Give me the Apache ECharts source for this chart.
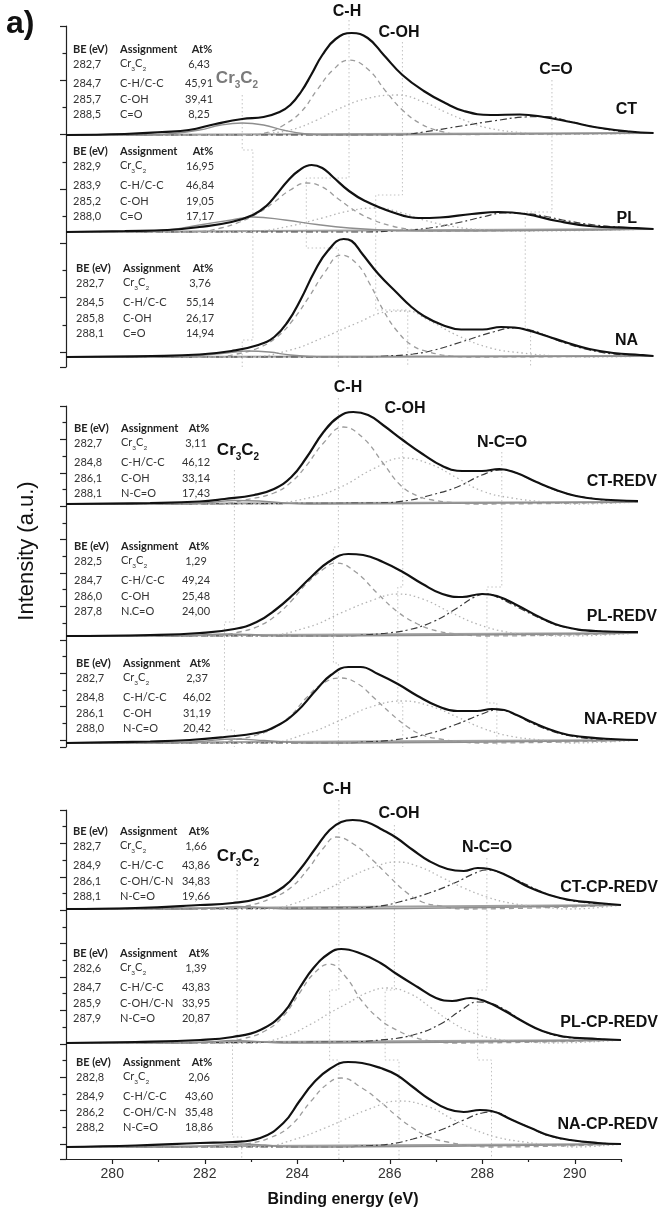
<!DOCTYPE html>
<html>
<head>
<meta charset="utf-8">
<script src="https://cdn.jsdelivr.net/npm/echarts@6/dist/echarts.min.js"></script>
<style>
  html, body { margin: 0; padding: 0; background: #fff; }
  #chart { width: 659px; height: 1211px; }
</style>
</head>
<body>
<div id="chart"></div>
<script>
// tick labels of the bottom axis
var xMajor = [280, 282, 284, 286, 288, 290];
var xMinor = [281, 283, 285, 287, 289, 291];

// ---- CT ----
var ct_be = [282.7, 284.7, 285.7, 288.5];
var ct_at = [6.43, 45.91, 39.41, 8.25];
var ct_env = [[279.4,0],[280.5,1],[281.2,3],[281.7,5],[282.2,11],[282.7,16],[283.1,18],[283.4,23],[283.6,30],[283.8,43],[284.0,61],[284.2,80],[284.45,96],[284.75,102],[285.05,97],[285.35,80],[285.7,60],[286.1,44],[286.5,32],[286.85,24],[287.35,20],[287.9,20.5],[288.35,18],[288.85,13],[289.35,7.5],[289.95,3.5],[290.4,2]];
var ct_cr = [[280.8,0],[281.4,1.5],[281.9,5],[282.3,10],[282.7,12],[283.1,10],[283.5,4.5],[283.9,1],[284.3,0]];
var ct_ch = [[282.9,0],[283.2,3],[283.45,9],[283.8,23],[284.1,45],[284.4,65],[284.7,75],[285.05,66],[285.4,43],[285.7,25],[286.05,11],[286.4,4],[286.8,0.5]];
var ct_coh = [[282.6,0],[283.0,1],[283.6,5],[284.1,15],[284.5,26],[285.0,36],[285.6,40],[286.1,33],[286.5,23],[286.9,14],[287.3,7],[288.0,2],[288.5,0.5]];
var ct_co = [[285.6,0],[286.1,3],[286.8,9],[287.4,14],[288.0,18],[288.4,18.5],[288.8,14],[289.3,8],[289.9,3],[290.4,2]];
var ct_bg = [[279.4,0],[290.4,2]];

// ---- PL ----
var pl_be = [282.9, 283.9, 285.2, 288.0];
var pl_at = [16.95, 46.84, 19.05, 17.17];
var pl_env = [[279.4,0],[280.5,1],[281.3,2],[281.9,5],[282.5,10],[282.9,17],[283.15,26],[283.35,38],[283.55,51],[283.75,61],[284.0,67],[284.2,64],[284.4,55],[284.7,41],[285.0,31],[285.5,20],[286.0,14],[286.4,14.5],[287.0,18],[287.5,20],[288.0,18],[288.6,11],[289.2,6],[290.0,4],[290.4,3]];
var pl_cr = [[280.5,0],[281.3,2],[281.9,7],[282.5,12],[282.9,15],[283.5,12],[284.1,7.5],[284.7,4],[285.3,2],[286.0,1]];
var pl_ch = [[281.8,0],[282.3,4],[282.65,10],[283.0,19],[283.3,30],[283.6,42],[283.9,49],[284.2,45],[284.5,33],[284.85,20],[285.15,12],[285.5,6],[285.8,3],[286.3,1]];
var pl_coh = [[282.4,0],[283.0,1],[283.6,6],[284.2,14],[284.7,21],[285.2,24],[285.7,19],[286.1,12],[286.7,5],[287.3,2],[288.0,1]];
var pl_co = [[285.0,0],[285.5,1],[286.2,4],[286.8,10],[287.2,15],[287.6,19],[288.0,18.5],[288.4,15.5],[288.7,12],[289.3,7],[290.0,4],[290.4,3]];
var pl_bg = [[279.4,0],[290.4,3]];

// ---- NA ----
var na_be = [282.7, 284.5, 285.8, 288.1];
var na_at = [3.76, 55.14, 26.17, 14.94];
var na_env = [[279.4,0],[281.0,1],[281.9,2.5],[282.5,6],[283.0,12],[283.3,20],[283.55,35],[283.8,58],[284.05,85],[284.3,106],[284.6,118],[284.75,116],[284.95,103],[285.25,83],[285.6,64],[285.85,51],[286.1,41],[286.45,32],[286.8,27.5],[287.2,27.5],[287.55,30],[287.8,29.5],[288.1,26],[288.4,21],[288.8,14],[289.2,8],[289.65,4],[290.15,2],[290.4,1]];
var na_cr = [[281.3,0],[281.9,1.5],[282.4,4],[282.8,6],[283.2,5],[283.6,2],[284.0,0.5],[284.4,0]];
var na_ch = [[282.2,0],[282.6,3],[283.0,9],[283.35,20],[283.65,37],[283.95,60],[284.25,85],[284.55,102],[284.85,93],[285.1,72],[285.35,46],[285.6,26],[285.9,11],[286.2,5],[286.6,1],[287.0,0]];
var na_coh = [[282.8,0],[283.6,7],[284.2,19],[284.85,34],[285.4,45],[285.8,46],[286.15,38],[286.75,21],[287.35,9],[287.95,4],[288.6,1],[289.2,0]];
var na_co = [[285.0,0],[285.4,1],[285.9,3],[286.3,7],[286.8,15],[287.4,25],[287.8,29],[288.1,27],[288.45,20],[288.8,13],[289.2,7],[289.65,3],[290.15,1.5],[290.4,1]];
var na_bg = [[279.4,0],[290.4,1]];

// ---- CT-REDV ----
var ctr_be = [282.7, 284.8, 286.1, 288.1];
var ctr_at = [3.11, 46.12, 33.14, 17.43];
var ctr_env = [[279.3,0],[281.0,1],[282.0,2.5],[282.5,5],[283.1,9],[283.5,15],[283.85,27],[284.15,46],[284.5,72],[284.8,87],[285.1,92],[285.4,89],[285.7,79],[286.1,64],[286.5,50],[286.9,38],[287.3,33],[287.7,33],[288.05,35],[288.4,31],[288.8,22],[289.2,14],[289.6,8],[290.0,5],[290.85,3]];
var ctr_cr = [[281.5,0],[282.2,1.5],[282.7,3.5],[283.2,3],[283.7,1],[284.2,0]];
var ctr_ch = [[282.4,0],[282.9,4],[283.5,11],[283.85,22],[284.15,38],[284.5,61],[284.9,77],[285.3,66],[285.7,41],[286.05,19],[286.4,8],[286.7,4],[287.2,1],[287.6,0]];
var ctr_coh = [[283.2,0],[284.2,6],[284.85,17],[285.5,35],[286.1,46],[286.65,40],[287.2,26],[287.7,13],[288.3,6],[289.0,2],[289.6,0]];
var ctr_co = [[285.6,1],[286.2,3.5],[286.6,8],[287.2,17],[287.7,29],[288.1,34],[288.4,31],[288.75,23],[289.3,12],[290.0,5],[290.5,3],[290.85,2]];
var ctr_bg = [[279.3,0],[290.85,2]];

// ---- PL-REDV ----
var plr_be = [282.5, 284.7, 286.0, 287.8];
var plr_at = [1.29, 49.24, 25.48, 24.00];
var plr_env = [[279.3,0],[281.0,1],[282.0,3],[282.7,7],[283.15,14],[283.55,27],[283.9,42],[284.25,59],[284.6,74],[285.0,82],[285.3,81],[285.7,74],[286.1,64],[286.5,52],[286.9,42],[287.3,39],[287.7,42],[288.0,40],[288.4,31],[288.9,18],[289.3,10],[290.0,5],[290.85,4]];
var plr_cr = [[281.3,0],[282.0,1],[282.5,2],[283.0,1.5],[283.6,0]];
var plr_ch = [[282.3,0],[282.8,4],[283.15,9],[283.5,19],[283.85,35],[284.15,52],[284.5,67],[284.75,73],[285.15,64],[285.6,42],[286.0,24],[286.4,12],[286.8,5],[287.2,2],[287.7,0]];
var plr_coh = [[283.2,0],[284.2,9],[284.85,23],[285.5,36],[286.0,42],[286.5,37],[287.05,24],[287.6,12],[288.2,4],[288.8,1],[289.4,0]];
var plr_co = [[285.0,0],[285.3,1],[285.8,3],[286.2,6],[286.7,14],[287.2,28],[287.55,39],[287.8,42],[288.05,38],[288.45,28],[288.95,16],[289.35,9],[290.0,5],[290.85,4]];
var plr_bg = [[279.3,0],[290.85,3]];

// ---- NA-REDV ----
var nar_be = [282.7, 284.8, 286.1, 288.0];
var nar_at = [2.37, 46.02, 31.19, 20.42];
var nar_env = [[279.3,0],[281.0,1.5],[281.8,3],[282.5,6],[283.15,10],[283.55,17],[283.95,31],[284.35,53],[284.65,68],[285.0,76],[285.25,76],[285.6,69],[286.0,59],[286.4,47],[286.8,37],[287.2,32],[287.6,32],[287.9,34],[288.15,33],[288.4,28],[288.75,20],[289.1,13],[289.45,8],[290.0,5],[290.85,3]];
var nar_cr = [[281.2,0],[282.0,1.5],[282.7,4],[283.3,2.5],[283.9,0.5],[284.3,0]];
var nar_ch = [[282.3,0],[282.8,4],[283.15,8],[283.5,15],[283.85,28],[284.15,45],[284.5,60],[284.85,65],[285.2,59],[285.5,46],[285.85,30],[286.2,16],[286.5,8],[286.85,4],[287.3,1],[287.7,0]];
var nar_coh = [[283.3,0],[284.2,10],[284.85,23],[285.45,36],[286.1,42],[286.65,37],[287.2,26],[287.7,15],[288.25,7],[288.9,3],[289.5,0]];
var nar_co = [[285.0,0],[285.3,1],[285.9,3],[286.6,9],[287.2,19],[287.7,29],[288.0,33],[288.3,30],[288.7,20],[289.1,12],[289.5,7],[290.0,4],[290.85,3]];
var nar_bg = [[279.3,0],[290.85,3]];

// ---- CT-CP-REDV ----
var ctc_be = [282.7, 284.9, 286.1, 288.1];
var ctc_at = [1.66, 43.86, 34.83, 19.66];
var ctc_env = [[279,0],[280.5,1],[281.9,4],[282.6,6],[283.2,11],[283.7,22],[284.05,39],[284.4,61],[284.7,79],[284.95,87],[285.2,89],[285.5,87],[285.85,79],[286.15,71],[286.5,59],[286.85,48],[287.25,40],[287.6,38],[287.9,41],[288.15,40],[288.55,33],[289.0,22],[289.45,14],[289.9,9],[290.5,6],[291,4]];
var ctc_cr = [[281.5,0],[282.2,1],[282.7,2.5],[283.2,1.5],[283.8,0]];
var ctc_ch = [[282.4,0],[282.9,3],[283.4,10],[283.85,21],[284.25,41],[284.55,60],[284.85,72],[285.25,64],[285.65,48],[286.0,32],[286.35,17],[286.7,7],[287.1,3],[287.6,0]];
var ctc_coh = [[283.3,0],[283.9,5],[284.7,21],[285.15,32],[285.6,41],[286.15,47],[286.65,42],[287.15,31],[287.6,21],[288.1,12],[288.6,6],[289.3,2],[289.9,0]];
var ctc_co = [[285.2,1],[285.8,3],[286.2,7],[286.85,16],[287.45,27],[287.8,35],[288.1,39],[288.35,37],[288.75,29],[289.2,19],[289.6,12],[290.1,7],[291,4]];
var ctc_bg = [[279,0],[291,4]];

// ---- PL-CP-REDV ----
var plc_be = [282.6, 284.7, 285.9, 287.9];
var plc_at = [1.39, 43.83, 33.95, 20.87];
var plc_env = [[279,0],[280.5,1],[281.9,3],[282.6,6],[283.2,13],[283.7,30],[284.05,55],[284.35,75],[284.7,90],[284.95,94],[285.4,89],[285.8,80],[286.15,69],[286.6,56],[287.0,45],[287.35,42],[287.75,45],[288.05,42],[288.45,33],[288.9,21],[289.3,12],[289.75,6.5],[290.5,4],[291,3]];
var plc_cr = [[281.4,0],[282.1,1],[282.6,2.5],[283.1,1.5],[283.7,0]];
var plc_ch = [[282.3,0],[282.8,4],[283.3,12],[283.7,27],[284.05,50],[284.35,69],[284.7,79],[285.05,66],[285.4,42],[285.8,23],[286.15,13],[286.5,6],[286.9,2],[287.4,0]];
var plc_coh = [[283.0,0],[283.7,6],[284.3,19],[284.7,30],[285.1,40],[285.5,50],[285.95,55],[286.45,49],[286.9,35],[287.3,22],[287.75,11],[288.3,4],[289.0,1],[289.5,0]];
var plc_co = [[285.0,1],[285.8,3],[286.5,8],[287.1,19],[287.55,33],[287.9,41],[288.15,40],[288.5,33],[288.9,21],[289.3,12],[289.75,6],[290.5,4],[291,3]];
var plc_bg = [[279,0],[291,3]];

// ---- NA-CP-REDV ----
var nac_be = [282.8, 284.9, 286.2, 288.2];
var nac_at = [2.06, 43.60, 35.48, 18.86];
var nac_env = [[279,0],[280.5,1.5],[281.9,4],[282.6,5],[283.2,9],[283.7,24],[284.05,46],[284.35,64],[284.7,78],[285.1,85],[285.4,84],[285.8,79],[286.15,72],[286.5,60],[286.85,48],[287.25,38],[287.6,35],[287.95,37],[288.2,36],[288.65,27],[289.05,19],[289.45,11.5],[289.9,7],[290.5,4],[291,3]];
var nac_cr = [[281.4,0],[282.2,1.5],[282.8,3],[283.3,2],[283.9,0]];
var nac_ch = [[282.4,0],[282.9,3],[283.4,9],[283.85,21],[284.3,46],[284.65,63],[284.95,69],[285.4,59],[285.8,45],[286.15,31],[286.5,19],[286.85,10],[287.25,5],[287.8,1],[288.2,0]];
var nac_coh = [[283.2,0],[283.9,7],[284.6,19],[285.0,27],[285.5,37],[286.2,46],[286.85,40],[287.35,28],[287.8,18],[288.3,10],[288.9,5],[289.5,2],[290.0,0]];
var nac_co = [[285.0,0],[285.4,1],[286.0,3],[286.5,8],[287.1,17],[287.6,27],[288.0,34],[288.25,35],[288.65,27],[289.05,19],[289.45,11],[289.9,7],[290.5,4],[291,3]];
var nac_bg = [[279,0],[291,3]];

// assignments
var assignOx = ['Cr3C2', 'C-H/C-C', 'C-OH', 'C=O'];
var assignRedv = ['Cr3C2', 'C-H/C-C', 'C-OH', 'N-C=O'];
var assignRedvPl = ['Cr3C2', 'C-H/C-C', 'C-OH', 'N.C=O'];
var assignCp = ['Cr3C2', 'C-H/C-C', 'C-OH/C-N', 'N-C=O'];
var peakNamesOx = ['C-H', 'C-OH', 'C=O'];
var peakNamesN = ['C-H', 'C-OH', 'N-C=O'];

// ------------------------------------------------------------------
// layout
var LEFT = 66;
// the three blocks of the original figure do not share exactly the same x scale
var blocks = [
  {top: 26, height: 341, width: 587.4, min: 279.4, max: 290.4, tick: 54.33},
  {top: 406, height: 341, width: 572, min: 279.3, max: 290.85, tick: 33.4},
  {top: 810, height: 349, width: 555, min: 279, max: 291, tick: 33.4}
];
// dotted guide lines: y levels (px from block top) where they step to the next spectrum
var guideLevels = [
  [[69, 124, 314, 341], [-6, 152, 222, 341], [16, 169, 284, 341], [54, 186, 304, 341]],
  [[64, 216, 324, 341], [-8, 141, 257, 341], [14, 181, 297, 341], [46, 181, 297, 341]],
  [[60, 233, 327, 349], [-10, 180, 250, 349], [15, 180, 250, 349], [48, 180, 250, 349]]
];
var panels = [
  {name: 'CT', block: 0, base: 135, lx: 637, ly: 110, tx: 73, tc: 199, ty: 49, be: ct_be, at: ct_at, asg: assignOx, env: ct_env, cr: ct_cr, ch: ct_ch, coh: ct_coh, co: ct_co, bg: ct_bg},
  {name: 'PL', block: 0, base: 232, lx: 637, ly: 219, tx: 73, tc: 200, ty: 151, be: pl_be, at: pl_at, asg: assignOx, env: pl_env, cr: pl_cr, ch: pl_ch, coh: pl_coh, co: pl_co, bg: pl_bg},
  {name: 'NA', block: 0, base: 357, lx: 638, ly: 341, tx: 76, tc: 200, ty: 268, be: na_be, at: na_at, asg: assignOx, env: na_env, cr: na_cr, ch: na_ch, coh: na_coh, co: na_co, bg: na_bg},
  {name: 'CT-REDV', block: 1, base: 504, lx: 657, ly: 482, tx: 74, tc: 196, ty: 428, be: ctr_be, at: ctr_at, asg: assignRedv, env: ctr_env, cr: ctr_cr, ch: ctr_ch, coh: ctr_coh, co: ctr_co, bg: ctr_bg},
  {name: 'PL-REDV', block: 1, base: 636, lx: 657, ly: 617, tx: 74, tc: 196, ty: 546, be: plr_be, at: plr_at, asg: assignRedvPl, env: plr_env, cr: plr_cr, ch: plr_ch, coh: plr_coh, co: plr_co, bg: plr_bg},
  {name: 'NA-REDV', block: 1, base: 743, lx: 657, ly: 720, tx: 76, tc: 197, ty: 663, be: nar_be, at: nar_at, asg: assignRedv, env: nar_env, cr: nar_cr, ch: nar_ch, coh: nar_coh, co: nar_co, bg: nar_bg},
  {name: 'CT-CP-REDV', block: 2, base: 909, lx: 658, ly: 888, tx: 73, tc: 196, ty: 831, be: ctc_be, at: ctc_at, asg: assignCp, env: ctc_env, cr: ctc_cr, ch: ctc_ch, coh: ctc_coh, co: ctc_co, bg: ctc_bg},
  {name: 'PL-CP-REDV', block: 2, base: 1043, lx: 658, ly: 1023, tx: 73, tc: 196, ty: 953, be: plc_be, at: plc_at, asg: assignCp, env: plc_env, cr: plc_cr, ch: plc_ch, coh: plc_coh, co: plc_co, bg: plc_bg},
  {name: 'NA-CP-REDV', block: 2, base: 1147, lx: 658, ly: 1125, tx: 76, tc: 199, ty: 1062, be: nac_be, at: nac_at, asg: assignCp, env: nac_env, cr: nac_cr, ch: nac_ch, coh: nac_coh, co: nac_co, bg: nac_bg}
];
// peak labels above each block: C-H, C-OH, C=O / N-C=O, then Cr3C2
var peakLabelPos = [
  {names: peakNamesOx, pos: [[347, 12], [399, 33], [556, 70]], cr: [237, 80], crColor: '#7a7a7a'},
  {names: peakNamesN, pos: [[348, 388], [405, 409], [502, 443]], cr: [238, 452], crColor: '#111'},
  {names: peakNamesN, pos: [[337, 790], [399, 814], [487, 848]], cr: [238, 858], crColor: '#111'}
];
var rowOffsets = [15, 34, 50, 65];

var styles = {
  bg: {color: '#a0a0a0', width: 2, type: 'solid'},
  co: {color: '#3a3a3a', width: 1.2, type: [7, 3, 2, 3]},
  coh: {color: '#b4b4b4', width: 1.3, type: [1.5, 3]},
  ch: {color: '#9c9c9c', width: 1.3, type: [5, 4]},
  cr: {color: '#8e8e8e', width: 1.3, type: 'solid'},
  env: {color: '#111', width: 2.2, type: 'solid'}
};
var FONT = '"Liberation Sans", Arial, sans-serif';
var TFONT = 'Lato, "Open Sans", sans-serif';
var AXIS_COLOR = '#222';

function fmt(v, d) { return v.toFixed(d).replace('.', ','); }

// component curves run across the whole panel on top of the background
function withEnds(arr, bg) {
  var out = arr.slice();
  if (out[0][0] > bg[0][0]) out.unshift(bg[0]);
  if (out[out.length - 1][0] < bg[1][0]) out.push(bg[1]);
  return out;
}

var grids = [], xAxes = [], yAxes = [], series = [], graphics = [];

blocks.forEach(function (b, i) {
  grids.push({left: LEFT, top: b.top, width: b.width, height: b.height});
  if (i < 2) {
    xAxes.push({type: 'value', gridIndex: i, min: b.min, max: b.max, show: false});
  } else {
    xAxes.push({
      type: 'value', gridIndex: i, min: b.min, max: b.max, position: 'bottom',
      axisLine: {show: true, onZero: false, lineStyle: {color: AXIS_COLOR, width: 1.2}},
      axisTick: {show: true, length: 5, customValues: xMajor, lineStyle: {color: AXIS_COLOR, width: 1.2}},
      axisLabel: {show: true, customValues: xMajor, margin: 8, fontSize: 14, color: '#333', fontFamily: FONT},
      splitLine: {show: false}
    });
  }
  yAxes.push({
    type: 'value', gridIndex: i, min: 0, max: b.height, inverse: true, interval: b.tick,
    axisLine: {show: true, lineStyle: {color: AXIS_COLOR, width: 1.2}},
    axisTick: {show: true, length: 6, lineStyle: {color: AXIS_COLOR, width: 1.2}},
    minorTick: {show: true, splitNumber: 2, length: 3.5, lineStyle: {color: AXIS_COLOR, width: 1.2}},
    axisLabel: {show: false}, splitLine: {show: false}, minorSplitLine: {show: false}
  });
});

panels.forEach(function (p, k) {
  var b = blocks[p.block];
  var gi = 3 + k;
  grids.push({left: LEFT, width: b.width, top: p.base - 130, height: 135});
  xAxes.push({type: 'value', gridIndex: gi, min: b.min, max: b.max, show: false});
  yAxes.push({type: 'value', gridIndex: gi, min: -5, max: 130, show: false});
  ['bg', 'co', 'coh', 'ch', 'cr', 'env'].forEach(function (key, z) {
    var data = (key === 'bg' || key === 'env') ? p[key] : withEnds(p[key], p.bg);
    series.push({
      type: 'line', name: p.name + ' ' + key, xAxisIndex: gi, yAxisIndex: gi,
      data: data, smooth: key === 'bg' ? false : 0.45,
      symbol: 'none', clip: false, silent: true, z: 3 + z,
      lineStyle: styles[key]
    });
  });

  // panel name
  graphics.push({type: 'text', x: p.lx, y: p.ly, silent: true, style: {
    text: p.name, fontFamily: FONT, fontWeight: 'bold', fontSize: 16, fill: '#111',
    textAlign: 'right', verticalAlign: 'middle'}});

  // table of fitted components
  var hdr = {fontFamily: TFONT, fontWeight: 'bold', fontSize: 11, fill: '#222', verticalAlign: 'middle'};
  graphics.push({type: 'text', x: p.tx, y: p.ty, silent: true, style: Object.assign({text: 'BE (eV)', textAlign: 'left'}, hdr)});
  graphics.push({type: 'text', x: p.tx + 47, y: p.ty, silent: true, style: Object.assign({text: 'Assignment', textAlign: 'left'}, hdr)});
  graphics.push({type: 'text', x: p.tc + 3, y: p.ty, silent: true, style: Object.assign({text: 'At%', textAlign: 'center'}, hdr)});
  var cell = {fontFamily: TFONT, fontSize: 11, fill: '#333', verticalAlign: 'middle'};
  p.be.forEach(function (be, r) {
    var y = p.ty + rowOffsets[r];
    graphics.push({type: 'text', x: p.tx, y: y, silent: true, style: Object.assign({text: fmt(be, 1), textAlign: 'left'}, cell)});
    var a = p.asg[r];
    if (a === 'Cr3C2') {
      graphics.push({type: 'text', x: p.tx + 47, y: y + 1, silent: true, style: {
        text: '{r|Cr}{s|3}{r|C}{s|2}', textAlign: 'left', verticalAlign: 'middle',
        rich: {
          r: {fontFamily: TFONT, fontSize: 11, fill: '#333', lineHeight: 14, verticalAlign: 'top'},
          s: {fontFamily: TFONT, fontSize: 6.5, fill: '#333', verticalAlign: 'bottom'}
        }}});
    } else {
      graphics.push({type: 'text', x: p.tx + 47, y: y, silent: true, style: Object.assign({text: a, textAlign: 'left'}, cell)});
    }
    graphics.push({type: 'text', x: p.tc, y: y, silent: true, style: Object.assign({text: fmt(p.at[r], 2), textAlign: 'center'}, cell)});
  });
});

// minor ticks of the bottom axis (odd energies)
xAxes.push({
  type: 'value', gridIndex: 2, min: blocks[2].min, max: blocks[2].max, position: 'bottom',
  axisLine: {show: false, onZero: false},
  axisTick: {show: true, length: 3, customValues: xMinor, lineStyle: {color: AXIS_COLOR, width: 1.2}},
  axisLabel: {show: false}, splitLine: {show: false}
});

// dotted guides following each peak position through the three spectra of a block
var guideKeys = ['cr', 'ch', 'coh', 'co'];
blocks.forEach(function (b, bi) {
  var ps = panels.filter(function (p) { return p.block === bi; });
  guideKeys.forEach(function (key, c) {
    var lv = guideLevels[bi][c];
    var pts = [];
    ps.forEach(function (p, j) {
      pts.push([p.be[c], lv[j]]);
      pts.push([p.be[c], lv[j + 1]]);
    });
    series.push({
      type: 'line', xAxisIndex: bi, yAxisIndex: bi, data: pts, symbol: 'none',
      clip: false, silent: true, z: 1,
      lineStyle: {color: '#c2c2c2', width: 1, type: [1.5, 2.5]}
    });
  });
  var pl = peakLabelPos[bi];
  pl.names.forEach(function (n, i) {
    graphics.push({type: 'text', x: pl.pos[i][0], y: pl.pos[i][1], silent: true, style: {
      text: n, fontFamily: FONT, fontWeight: 'bold', fontSize: 16, fill: '#111',
      textAlign: 'center', verticalAlign: 'middle'}});
  });
  graphics.push({type: 'text', x: pl.cr[0], y: pl.cr[1], silent: true, style: {
    text: '{r|Cr}{s|3}{r|C}{s|2}', textAlign: 'center', verticalAlign: 'middle',
    rich: {
      r: {fontFamily: FONT, fontWeight: 'bold', fontSize: 17, fill: pl.crColor, lineHeight: 20, verticalAlign: 'top'},
      s: {fontFamily: FONT, fontWeight: 'bold', fontSize: 10, fill: pl.crColor, verticalAlign: 'bottom'}
    }}});
});

graphics.push({type: 'text', x: 6, y: 24, silent: true, style: {
  text: 'a)', fontFamily: FONT, fontWeight: 'bold', fontSize: 32, fill: '#111',
  textAlign: 'left', verticalAlign: 'middle'}});
graphics.push({type: 'text', x: 27, y: 551, rotation: Math.PI / 2, silent: true, style: {
  text: 'Intensity (a.u.)', fontFamily: FONT, fontSize: 22, fill: '#111',
  textAlign: 'center', verticalAlign: 'middle'}});
graphics.push({type: 'text', x: 343, y: 1200, silent: true, style: {
  text: 'Binding energy (eV)', fontFamily: FONT, fontWeight: 'bold', fontSize: 16, fill: '#111',
  textAlign: 'center', verticalAlign: 'middle'}});

var chart = echarts.init(document.getElementById('chart'), null, {renderer: 'canvas'});
chart.setOption({
  animation: false,
  backgroundColor: '#fff',
  grid: grids,
  xAxis: xAxes,
  yAxis: yAxes,
  series: series,
  graphic: {elements: graphics}
});
</script>
</body>
</html>
